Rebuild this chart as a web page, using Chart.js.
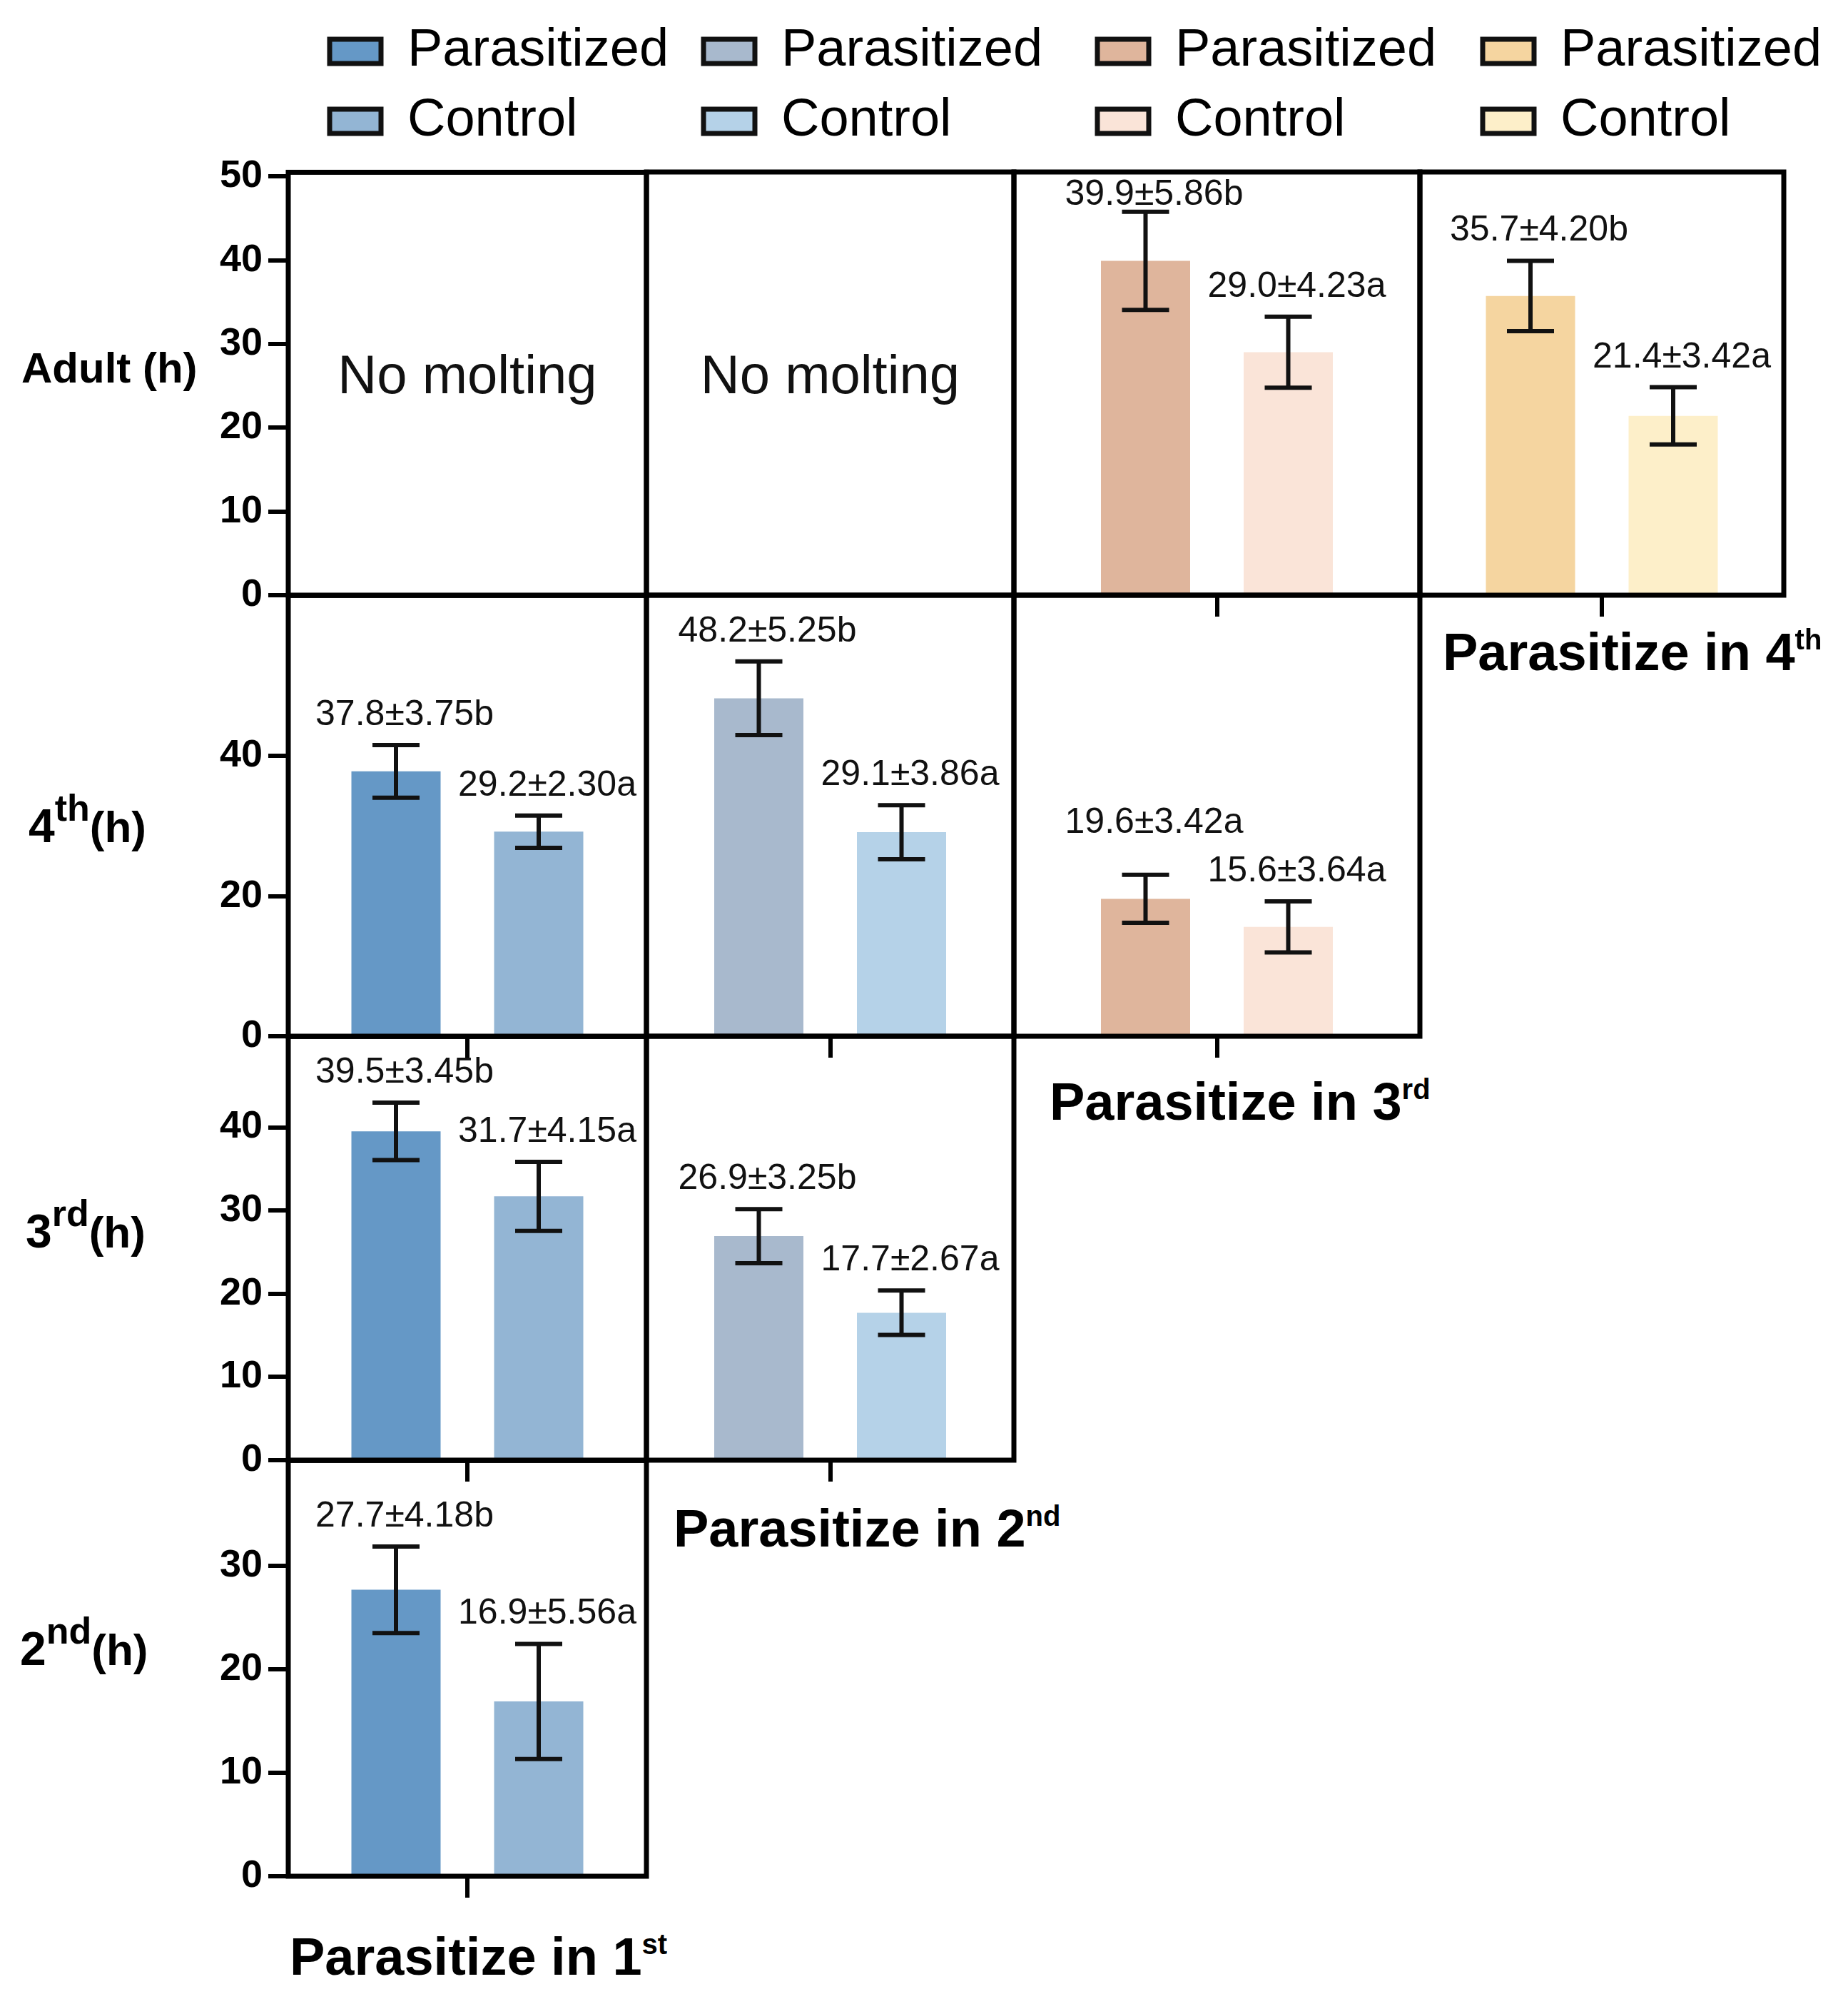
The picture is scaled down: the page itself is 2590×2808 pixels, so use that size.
<!DOCTYPE html>
<html><head><meta charset="utf-8">
<script src="https://cdn.jsdelivr.net/npm/chart.js@4.4.1/dist/chart.umd.min.js"></script>
<style>
html,body{margin:0;padding:0;background:#fff;}
#stage{position:relative;width:2590px;height:2808px;background:#fff;overflow:hidden;font-family:'Liberation Sans',Arial,sans-serif;color:#000;}
#stage canvas{position:absolute;}
.lbl{position:absolute;white-space:nowrap;font-weight:bold;line-height:1;color:#000;}
.sup{position:relative;}
</style></head><body><div id="stage"></div>
<script>
// ---------------- DATA ----------------
const rowNames = ['Adult', '4th', '3rd', '2nd'];          // developmental stage (rows)
const columnNames = ['1st', '2nd', '3rd', '4th'];         // parasitized instar (columns)
const seriesNames = ['Parasitized', 'Control'];
const emptyText = 'No molting';

// [row][column]
const parasitizedMean = [[null, null, 39.9, 35.7], [37.8, 48.2, 19.6], [39.5, 26.9], [27.7]];
const parasitizedSD   = [[null, null, 5.86, 4.20], [3.75, 5.25, 3.42], [3.45, 3.25], [4.18]];
const parasitizedSig  = [[null, null, 'b', 'b'], ['b', 'b', 'a'], ['b', 'b'], ['b']];
const controlMean     = [[null, null, 29.0, 21.4], [29.2, 29.1, 15.6], [31.7, 17.7], [16.9]];
const controlSD       = [[null, null, 4.23, 3.42], [2.30, 3.86, 3.64], [4.15, 2.67], [5.56]];
const controlSig      = [[null, null, 'a', 'a'], ['a', 'a', 'a'], ['a', 'a'], ['a']];

const yTickValues = [[0, 10, 20, 30, 40, 50], [0, 20, 40], [0, 10, 20, 30, 40], [0, 10, 20, 30]];
const yMax = [50.5, 62.9, 50.9, 40.2];

const rowLabelMain = ['Adult (h)', '4', '3', '2'];
const rowLabelSup  = ['', 'th', 'rd', 'nd'];
const rowLabelTail = ['', '(h)', '(h)', '(h)'];
const colTitleMain = ['Parasitize in 1', 'Parasitize in 2', 'Parasitize in 3', 'Parasitize in 4'];
const colTitleSup  = ['st', 'nd', 'rd', 'th'];

// ---------------- STYLE / LAYOUT ----------------
const parasitizedColors = ['#6598c6', '#a8b9cd', '#dfb59c', '#f5d5a0'];
const controlColors     = ['#93b5d4', '#b5d2e8', '#fae4d8', '#fdefc9'];
const FONT = "'Liberation Sans', Arial, sans-serif";

const colEdges = [404, 906, 1421, 1990, 2500];
const rowEdges = [241, 834, 1452, 2046, 2629];
const legendLeft = [462, 986, 1538, 2078];
const rowLabelPos = [[30, 537, 60], [40, 1180, 66], [36, 1748, 66], [28, 2333, 66]];
const colTitlePos = [[406, 2768], [944, 2168], [1471, 1570], [2022, 940]];

const stage = document.getElementById('stage');
const charts = [];

function addCanvas(left, top, w, h) {
  const cv = document.createElement('canvas');
  cv.width = w; cv.height = h;
  cv.style.left = left + 'px'; cv.style.top = top + 'px';
  cv.style.width = w + 'px'; cv.style.height = h + 'px';
  stage.appendChild(cv);
  return cv;
}

function makePanelPlugin(r, c, hasData) {
  const sds = [parasitizedSD[r][c], controlSD[r][c]];
  const sigs = [parasitizedSig[r][c], controlSig[r][c]];
  return {
    id: 'panelDecor' + r + c,
    afterDatasetsDraw(chart) {
      if (!hasData) return;
      const ctx = chart.ctx, y = chart.scales.y, a = chart.chartArea;
      ctx.save();
      const labels = [];
      chart.data.datasets.forEach((ds, i) => {
        const bar = chart.getDatasetMeta(i).data[0];
        const v = ds.data[0], e = sds[i];
        const yt = y.getPixelForValue(v + e), yb = y.getPixelForValue(v - e);
        ctx.strokeStyle = '#111'; ctx.lineWidth = 6; ctx.lineCap = 'butt';
        ctx.beginPath();
        ctx.moveTo(bar.x, yt); ctx.lineTo(bar.x, yb);
        ctx.moveTo(bar.x - 33, yt); ctx.lineTo(bar.x + 33, yt);
        ctx.moveTo(bar.x - 33, yb); ctx.lineTo(bar.x + 33, yb);
        ctx.stroke();
        labels.push({ text: v.toFixed(1) + '\u00B1' + e.toFixed(2) + sigs[i], x: bar.x + 12, y: Math.max(yt - 28, a.top + 46) });
      });
      // keep the two labels from colliding
      if (labels.length === 2 && Math.abs(labels[0].y - labels[1].y) < 62 && Math.abs(labels[0].x - labels[1].x) < 250) {
        labels[0].y = Math.max(labels[1].y - 68, a.top + 46);
      }
      ctx.fillStyle = '#111';
      ctx.font = '50px ' + FONT;
      ctx.textAlign = 'center'; ctx.textBaseline = 'alphabetic';
      labels.forEach(l => ctx.fillText(l.text, l.x, l.y));
      ctx.restore();
    },
    afterDraw(chart) {
      const ctx = chart.ctx, a = chart.chartArea;
      ctx.save();
      if (!hasData) {
        ctx.fillStyle = '#111';
        ctx.font = '76px ' + FONT;
        ctx.textAlign = 'center'; ctx.textBaseline = 'alphabetic';
        ctx.fillText(emptyText, (a.left + a.right) / 2, (a.top + a.bottom) / 2 + 13);
      }
      ctx.lineWidth = 7; ctx.strokeStyle = '#000';
      ctx.strokeRect(a.left, a.top, a.right - a.left, a.bottom - a.top);
      ctx.restore();
    }
  };
}

// ---------------- PANELS ----------------
for (let r = 0; r < rowNames.length; r++) {
  for (let c = 0; c < columnNames.length - r; c++) {
    const pm = parasitizedMean[r][c], cm = controlMean[r][c];
    const hasData = pm !== null && pm !== undefined;
    const padL = c === 0 ? 130 : 12, padR = 12, padT = 40, padB = 44;
    const w = colEdges[c + 1] - colEdges[c];
    const h = rowEdges[r + 1] - rowEdges[r];
    const cv = addCanvas(colEdges[c] - padL, rowEdges[r] - padT, w + padL + padR, h + padT + padB);
    const ch = new Chart(cv, {
      type: 'bar',
      data: {
        labels: [columnNames[c]],
        datasets: [
          { label: seriesNames[0], data: [pm], backgroundColor: parasitizedColors[c], borderWidth: 0 },
          { label: seriesNames[1], data: [cm], backgroundColor: controlColors[c], borderWidth: 0 }
        ]
      },
      options: {
        responsive: false, animation: false, events: [],
        layout: { padding: { left: c === 0 ? 0 : padL, right: padR, top: padT, bottom: 0 } },
        datasets: { bar: { categoryPercentage: 400 / w, barPercentage: 0.625 } },
        plugins: { legend: { display: false }, tooltip: { enabled: false } },
        scales: {
          x: {
            display: true, offset: true,
            afterFit: s => { s.height = padB; },
            grid: { display: hasData, offset: false, drawOnChartArea: false, drawTicks: true, tickLength: 30, lineWidth: 6, color: '#000' },
            border: { display: false },
            ticks: { display: false }
          },
          y: {
            display: c === 0, min: 0, max: yMax[r],
            afterBuildTicks: s => { s.ticks = yTickValues[r].map(v => ({ value: v })); },
            afterFit: s => { if (c === 0) s.width = padL; },
            grid: { display: true, drawOnChartArea: false, drawTicks: true, tickLength: 28, lineWidth: 6, color: '#000' },
            border: { display: false },
            ticks: { autoSkip: false, padding: 8, color: '#000', font: { family: FONT, size: 54, weight: 'bold' } }
          }
        }
      },
      plugins: [makePanelPlugin(r, c, hasData)]
    });
    charts.push(ch);
  }
}

// ---------------- LEGENDS ----------------
for (let c = 0; c < columnNames.length; c++) {
  const cv = addCanvas(legendLeft[c] - 24, 0, 530, 236);
  new Chart(cv, {
    type: 'bar',
    data: {
      labels: [],
      datasets: [
        { label: seriesNames[0], data: [], backgroundColor: parasitizedColors[c] },
        { label: seriesNames[1], data: [], backgroundColor: controlColors[c] }
      ]
    },
    options: {
      responsive: false, animation: false, events: [],
      layout: { padding: { top: 11, left: 0, right: 0, bottom: 0 } },
      scales: { x: { display: false }, y: { display: false } },
      plugins: {
        tooltip: { enabled: false },
        legend: {
          display: true, position: 'top', align: 'start', maxHeight: 236,
          labels: {
            padding: 24, boxWidth: 72, boxHeight: 34, color: '#000',
            font: { family: FONT, size: 74 },
            generateLabels: ch => ch.data.datasets.map((ds, i) => ({
              text: ds.label, fillStyle: ds.backgroundColor, strokeStyle: '#111',
              lineWidth: 7, hidden: false, datasetIndex: i, fontColor: '#000'
            }))
          }
        }
      }
    }
  });
}

// ---------------- ROW LABELS & COLUMN TITLES ----------------
function addLabel(left, baseline, fs, html) {
  const d = document.createElement('div');
  d.className = 'lbl';
  d.style.left = left + 'px';
  d.style.top = (baseline - 0.8465 * fs) + 'px';
  d.style.fontSize = fs + 'px';
  d.innerHTML = html;
  stage.appendChild(d);
}
for (let r = 0; r < rowNames.length; r++) {
  const [x, b, fs] = rowLabelPos[r];
  let html = rowLabelMain[r];
  if (rowLabelSup[r]) html += '<span class="sup" style="font-size:52px;top:-30px;">' + rowLabelSup[r] + '</span>';
  if (rowLabelTail[r]) html += '<span style="font-size:62px;">' + rowLabelTail[r] + '</span>';
  addLabel(x, b, fs, html);
}
for (let c = 0; c < columnNames.length; c++) {
  const [x, b] = colTitlePos[c];
  addLabel(x, b, 74, colTitleMain[c] + '<span class="sup" style="font-size:40px;top:-29px;">' + colTitleSup[c] + '</span>');
}
</script></body></html>
